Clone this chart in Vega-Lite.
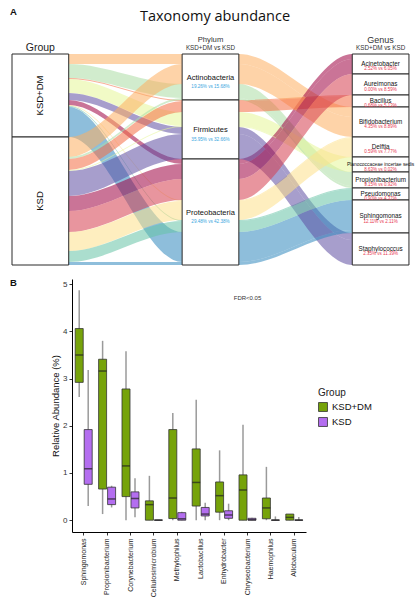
{
  "$schema": "https://vega.github.io/schema/vega-lite/v6.json",
  "padding": {"left": 10, "top": 1, "right": 0, "bottom": 0},
  "bounds": "flush",
  "spacing": 8,
  "config": {
    "view": {"stroke": null},
    "font": "Liberation Sans",
    "axis": {"labelFont": "Liberation Sans", "titleFont": "Liberation Sans"},
    "legend": {"labelFont": "Liberation Sans", "titleFont": "Liberation Sans"},
    "text": {"font": "Liberation Sans"}
  },
  "resolve": {"scale": {"x": "independent", "y": "independent", "color": "independent", "fill": "independent"}},
  "datasets": {
    "ribbons": [
      {"grp": "KSD+DM", "genus": "Bifidobacterium", "x": [0, 1], "y0": 0, "y1": 10},
      {"grp": "KSD+DM", "genus": "Bifidobacterium", "x": [3, 4], "y0": 0, "y1": 10},
      {"grp": "KSD+DM", "genus": "Bifidobacterium", "x": [6, 7], "y0": 53, "y1": 63},
      {"grp": "KSD+DM", "genus": "Propionibacterium", "x": [0, 1], "y0": 10, "y1": 24},
      {"grp": "KSD+DM", "genus": "Propionibacterium", "x": [3, 4], "y0": 30, "y1": 44},
      {"grp": "KSD+DM", "genus": "Propionibacterium", "x": [6, 7], "y0": 118, "y1": 132},
      {"grp": "KSD+DM", "genus": "Bacillus", "x": [0, 1], "y0": 24, "y1": 25},
      {"grp": "KSD+DM", "genus": "Bacillus", "x": [3, 4], "y0": 46, "y1": 47},
      {"grp": "KSD+DM", "genus": "Bacillus", "x": [6, 7], "y0": 41, "y1": 42},
      {"grp": "KSD+DM", "genus": "Planococcaceae incertae sedis", "x": [0, 1], "y0": 25, "y1": 39},
      {"grp": "KSD+DM", "genus": "Planococcaceae incertae sedis", "x": [3, 4], "y0": 58, "y1": 72},
      {"grp": "KSD+DM", "genus": "Planococcaceae incertae sedis", "x": [6, 7], "y0": 103, "y1": 117},
      {"grp": "KSD+DM", "genus": "Staphylococcus", "x": [0, 1], "y0": 39, "y1": 46},
      {"grp": "KSD+DM", "genus": "Staphylococcus", "x": [3, 4], "y0": 73, "y1": 80},
      {"grp": "KSD+DM", "genus": "Staphylococcus", "x": [6, 7], "y0": 179, "y1": 186},
      {"grp": "KSD+DM", "genus": "Acinetobacter", "x": [0, 1], "y0": 46, "y1": 51},
      {"grp": "KSD+DM", "genus": "Acinetobacter", "x": [3, 4], "y0": 105, "y1": 110},
      {"grp": "KSD+DM", "genus": "Acinetobacter", "x": [6, 7], "y0": 0, "y1": 5},
      {"grp": "KSD+DM", "genus": "Delftia", "x": [0, 1], "y0": 51, "y1": 52},
      {"grp": "KSD+DM", "genus": "Delftia", "x": [3, 4], "y0": 146, "y1": 147},
      {"grp": "KSD+DM", "genus": "Delftia", "x": [6, 7], "y0": 83, "y1": 84},
      {"grp": "KSD+DM", "genus": "Pseudomonas", "x": [0, 1], "y0": 52, "y1": 53},
      {"grp": "KSD+DM", "genus": "Pseudomonas", "x": [3, 4], "y0": 166, "y1": 167},
      {"grp": "KSD+DM", "genus": "Pseudomonas", "x": [6, 7], "y0": 134, "y1": 135},
      {"grp": "KSD+DM", "genus": "Sphingomonas", "x": [0, 1], "y0": 53, "y1": 83},
      {"grp": "KSD+DM", "genus": "Sphingomonas", "x": [3, 4], "y0": 178, "y1": 208},
      {"grp": "KSD+DM", "genus": "Sphingomonas", "x": [6, 7], "y0": 146, "y1": 176},
      {"grp": "KSD", "genus": "Bifidobacterium", "x": [0, 1], "y0": 83, "y1": 103},
      {"grp": "KSD", "genus": "Bifidobacterium", "x": [3, 4], "y0": 10, "y1": 30},
      {"grp": "KSD", "genus": "Bifidobacterium", "x": [6, 7], "y0": 63, "y1": 83},
      {"grp": "KSD", "genus": "Propionibacterium", "x": [0, 1], "y0": 103, "y1": 105},
      {"grp": "KSD", "genus": "Propionibacterium", "x": [3, 4], "y0": 44, "y1": 46},
      {"grp": "KSD", "genus": "Propionibacterium", "x": [6, 7], "y0": 132, "y1": 134},
      {"grp": "KSD", "genus": "Bacillus", "x": [0, 1], "y0": 105, "y1": 116},
      {"grp": "KSD", "genus": "Bacillus", "x": [3, 4], "y0": 47, "y1": 58},
      {"grp": "KSD", "genus": "Bacillus", "x": [6, 7], "y0": 42, "y1": 53},
      {"grp": "KSD", "genus": "Planococcaceae incertae sedis", "x": [0, 1], "y0": 116, "y1": 117},
      {"grp": "KSD", "genus": "Planococcaceae incertae sedis", "x": [3, 4], "y0": 72, "y1": 73},
      {"grp": "KSD", "genus": "Planococcaceae incertae sedis", "x": [6, 7], "y0": 117, "y1": 118},
      {"grp": "KSD", "genus": "Staphylococcus", "x": [0, 1], "y0": 117, "y1": 142},
      {"grp": "KSD", "genus": "Staphylococcus", "x": [3, 4], "y0": 80, "y1": 105},
      {"grp": "KSD", "genus": "Staphylococcus", "x": [6, 7], "y0": 186, "y1": 211},
      {"grp": "KSD", "genus": "Acinetobacter", "x": [0, 1], "y0": 142, "y1": 157},
      {"grp": "KSD", "genus": "Acinetobacter", "x": [3, 4], "y0": 110, "y1": 125},
      {"grp": "KSD", "genus": "Acinetobacter", "x": [6, 7], "y0": 5, "y1": 20},
      {"grp": "KSD", "genus": "Aureimonas", "x": [0, 1], "y0": 157, "y1": 178},
      {"grp": "KSD", "genus": "Aureimonas", "x": [3, 4], "y0": 125, "y1": 146},
      {"grp": "KSD", "genus": "Aureimonas", "x": [6, 7], "y0": 20, "y1": 41},
      {"grp": "KSD", "genus": "Delftia", "x": [0, 1], "y0": 178, "y1": 197},
      {"grp": "KSD", "genus": "Delftia", "x": [3, 4], "y0": 147, "y1": 166},
      {"grp": "KSD", "genus": "Delftia", "x": [6, 7], "y0": 84, "y1": 103},
      {"grp": "KSD", "genus": "Pseudomonas", "x": [0, 1], "y0": 197, "y1": 208},
      {"grp": "KSD", "genus": "Pseudomonas", "x": [3, 4], "y0": 167, "y1": 178},
      {"grp": "KSD", "genus": "Pseudomonas", "x": [6, 7], "y0": 135, "y1": 146},
      {"grp": "KSD", "genus": "Sphingomonas", "x": [0, 1], "y0": 208, "y1": 211},
      {"grp": "KSD", "genus": "Sphingomonas", "x": [3, 4], "y0": 208, "y1": 211},
      {"grp": "KSD", "genus": "Sphingomonas", "x": [6, 7], "y0": 176, "y1": 179}
    ],
    "nodes": [
      {"axis": "Group", "name": "KSD+DM", "pct": "", "x0": 0, "x1": 1, "y0": 0, "y1": 83},
      {"axis": "Group", "name": "KSD", "pct": "", "x0": 0, "x1": 1, "y0": 83, "y1": 211},
      {"axis": "Phylum", "name": "Actinobacteria", "pct": "19.26% vs 15.68%", "x0": 3, "x1": 4, "y0": 0, "y1": 46},
      {"axis": "Phylum", "name": "Firmicutes", "pct": "35.95% vs 32.66%", "x0": 3, "x1": 4, "y0": 46, "y1": 105},
      {"axis": "Phylum", "name": "Proteobacteria", "pct": "29.48% vs 42.38%", "x0": 3, "x1": 4, "y0": 105, "y1": 211},
      {"axis": "Genus", "name": "Acinetobacter", "pct": "2.52% vs 6.05%", "x0": 6, "x1": 7, "y0": 0, "y1": 20},
      {"axis": "Genus", "name": "Aureimonas", "pct": "0.00% vs 8.59%", "x0": 6, "x1": 7, "y0": 20, "y1": 41},
      {"axis": "Genus", "name": "Bacillus", "pct": "0.68% vs 5.13%", "x0": 6, "x1": 7, "y0": 41, "y1": 53},
      {"axis": "Genus", "name": "Bifidobacterium", "pct": "4.35% vs 8.89%", "x0": 6, "x1": 7, "y0": 53, "y1": 83},
      {"axis": "Genus", "name": "Delftia", "pct": "0.59% vs 7.77%", "x0": 6, "x1": 7, "y0": 83, "y1": 103},
      {"axis": "Genus", "name": "Planococcaceae incertae sedis", "pct": "8.63% vs 0.02%", "x0": 6, "x1": 7, "y0": 103, "y1": 118},
      {"axis": "Genus", "name": "Propionibacterium", "pct": "9.15% vs 0.92%", "x0": 6, "x1": 7, "y0": 118, "y1": 134},
      {"axis": "Genus", "name": "Pseudomonas", "pct": "0.90% vs 4.37%", "x0": 6, "x1": 7, "y0": 134, "y1": 146},
      {"axis": "Genus", "name": "Sphingomonas", "pct": "12.11% vs 2.11%", "x0": 6, "x1": 7, "y0": 146, "y1": 179},
      {"axis": "Genus", "name": "Staphylococcus", "pct": "2.35% vs 11.39%", "x0": 6, "x1": 7, "y0": 179, "y1": 211}
    ],
    "labels": [
      {"t": "Taxonomy abundance", "role": "title", "x": 3.58, "y": -37},
      {"t": "A", "role": "panel", "x": -0.035, "y": -42.5},
      {"t": "B", "role": "panel", "x": -0.035, "y": 229},
      {"t": "Group", "role": "hGroup", "x": 0.5, "y": -6.5},
      {"t": "Phylum", "role": "hSmall", "x": 3.5, "y": -14},
      {"t": "KSD+DM vs KSD", "role": "sub", "x": 3.5, "y": -6.5},
      {"t": "Genus", "role": "hGenus", "x": 6.5, "y": -14},
      {"t": "KSD+DM vs KSD", "role": "sub", "x": 6.5, "y": -6.5}
    ],
    "boxes": [
      {"genus": "Sphingomonas", "grp": "KSD+DM", "lo": 2.61, "q1": 2.92, "med": 3.5, "q3": 4.06, "hi": 4.87},
      {"genus": "Sphingomonas", "grp": "KSD", "lo": 0.3, "q1": 0.76, "med": 1.09, "q3": 1.92, "hi": 3.18},
      {"genus": "Propionibacterium", "grp": "KSD+DM", "lo": 0.13, "q1": 0.66, "med": 3.16, "q3": 3.41, "hi": 3.8},
      {"genus": "Propionibacterium", "grp": "KSD", "lo": 0.27, "q1": 0.33, "med": 0.45, "q3": 0.7, "hi": 0.73},
      {"genus": "Corynebacterium", "grp": "KSD+DM", "lo": 0.0, "q1": 0.5, "med": 1.15, "q3": 2.78, "hi": 3.58},
      {"genus": "Corynebacterium", "grp": "KSD", "lo": 0.06, "q1": 0.26, "med": 0.46, "q3": 0.6, "hi": 0.89},
      {"genus": "Cellulosimicrobium", "grp": "KSD+DM", "lo": 0.0, "q1": 0.0, "med": 0.33, "q3": 0.41, "hi": 0.94},
      {"genus": "Cellulosimicrobium", "grp": "KSD", "lo": 0.0, "q1": 0.0, "med": 0.0, "q3": 0.005, "hi": 0.005},
      {"genus": "Methylophilus", "grp": "KSD+DM", "lo": 0.0, "q1": 0.035, "med": 0.47, "q3": 1.92, "hi": 2.27},
      {"genus": "Methylophilus", "grp": "KSD", "lo": 0.0, "q1": 0.0, "med": 0.03, "q3": 0.16, "hi": 0.18},
      {"genus": "Lactobacillus", "grp": "KSD+DM", "lo": 0.0, "q1": 0.3, "med": 0.8, "q3": 1.51, "hi": 2.55},
      {"genus": "Lactobacillus", "grp": "KSD", "lo": 0.0, "q1": 0.09, "med": 0.13, "q3": 0.27, "hi": 0.37},
      {"genus": "Enhydrobacter", "grp": "KSD+DM", "lo": 0.0, "q1": 0.17, "med": 0.52, "q3": 0.81, "hi": 1.48},
      {"genus": "Enhydrobacter", "grp": "KSD", "lo": 0.0, "q1": 0.04, "med": 0.11, "q3": 0.2, "hi": 0.35},
      {"genus": "Chryseobacterium", "grp": "KSD+DM", "lo": 0.0, "q1": 0.0, "med": 0.64, "q3": 0.96, "hi": 2.02},
      {"genus": "Chryseobacterium", "grp": "KSD", "lo": 0.0, "q1": 0.0, "med": 0.01, "q3": 0.04, "hi": 0.05},
      {"genus": "Haemophilus", "grp": "KSD+DM", "lo": 0.0, "q1": 0.03, "med": 0.26, "q3": 0.47, "hi": 1.13},
      {"genus": "Haemophilus", "grp": "KSD", "lo": 0.0, "q1": 0.0, "med": 0.0, "q3": 0.005, "hi": 0.08},
      {"genus": "Allobaculum", "grp": "KSD+DM", "lo": 0.0, "q1": 0.0, "med": 0.06, "q3": 0.13, "hi": 0.13},
      {"genus": "Allobaculum", "grp": "KSD", "lo": 0.0, "q1": 0.0, "med": 0.0, "q3": 0.005, "hi": 0.07}
    ]
  },
  "vconcat": [
    {
      "width": 347,
      "height": 270,
      "layer": [
        {
          "data": {"name": "ribbons"},
          "transform": [{"flatten": ["x"]}],
          "mark": {"type": "area", "interpolate": "monotone", "orient": "vertical", "fillOpacity": 0.55},
          "encoding": {
            "x": {"field": "x", "type": "quantitative", "scale": {"domain": [1.058, 7.177], "nice": false, "zero": false}, "axis": null},
            "y": {"field": "y0", "type": "quantitative", "scale": {"domain": [-53, 217], "reverse": true, "nice": false, "zero": false}, "axis": null},
            "y2": {"field": "y1"},
            "color": {
              "field": "genus", "type": "nominal", "legend": null,
              "scale": {
                "domain": ["Acinetobacter", "Aureimonas", "Bacillus", "Bifidobacterium", "Delftia", "Planococcaceae incertae sedis", "Propionibacterium", "Pseudomonas", "Sphingomonas", "Staphylococcus"],
                "range": ["#9e0142", "#d53e4f", "#f46d43", "#fdae61", "#fee08b", "#e6f598", "#abdda4", "#66c2a5", "#3288bd", "#5e4fa2"]
              }
            },
            "detail": {"field": "grp"}
          }
        },
        {
          "data": {"name": "nodes"},
          "mark": {"type": "rect", "fill": "white", "stroke": "#2a2a2a", "strokeWidth": 1},
          "encoding": {
            "x": {"field": "x0", "type": "quantitative"},
            "x2": {"field": "x1"},
            "y": {"field": "y0", "type": "quantitative"},
            "y2": {"field": "y1"}
          }
        },
        {
          "data": {"name": "nodes"},
          "transform": [
            {"filter": "datum.axis === 'Group'"},
            {"calculate": "(datum.y0 + datum.y1) / 2", "as": "ym"},
            {"calculate": "(datum.x0 + datum.x1) / 2", "as": "xm"}
          ],
          "mark": {"type": "text", "angle": 270, "fontSize": 9.5, "color": "#111"},
          "encoding": {
            "x": {"field": "xm", "type": "quantitative"},
            "y": {"field": "ym", "type": "quantitative"},
            "text": {"field": "name"}
          }
        },
        {
          "data": {"name": "nodes"},
          "transform": [
            {"filter": "datum.axis === 'Phylum'"},
            {"calculate": "(datum.y0 + datum.y1) / 2", "as": "ym"},
            {"calculate": "(datum.x0 + datum.x1) / 2", "as": "xm"}
          ],
          "mark": {"type": "text", "fontSize": 7.5, "color": "#111", "dy": 0.5},
          "encoding": {
            "x": {"field": "xm", "type": "quantitative"},
            "y": {"field": "ym", "type": "quantitative"},
            "text": {"field": "name"}
          }
        },
        {
          "data": {"name": "nodes"},
          "transform": [
            {"filter": "datum.axis === 'Phylum'"},
            {"calculate": "(datum.y0 + datum.y1) / 2", "as": "ym"},
            {"calculate": "(datum.x0 + datum.x1) / 2", "as": "xm"}
          ],
          "mark": {"type": "text", "fontSize": 4.6, "color": "#3aa6e0", "dy": 10},
          "encoding": {
            "x": {"field": "xm", "type": "quantitative"},
            "y": {"field": "ym", "type": "quantitative"},
            "text": {"field": "pct"}
          }
        },
        {
          "data": {"name": "nodes"},
          "transform": [
            {"filter": "datum.axis === 'Genus' && datum.name !== 'Planococcaceae incertae sedis'"},
            {"calculate": "(datum.y0 + datum.y1) / 2", "as": "ym"},
            {"calculate": "(datum.x0 + datum.x1) / 2", "as": "xm"}
          ],
          "mark": {"type": "text", "fontSize": 6.3, "color": "#111", "dy": -0.5},
          "encoding": {
            "x": {"field": "xm", "type": "quantitative"},
            "y": {"field": "ym", "type": "quantitative"},
            "text": {"field": "name"}
          }
        },
        {
          "data": {"name": "nodes"},
          "transform": [
            {"filter": "datum.name === 'Planococcaceae incertae sedis'"},
            {"calculate": "(datum.y0 + datum.y1) / 2", "as": "ym"},
            {"calculate": "(datum.x0 + datum.x1) / 2", "as": "xm"}
          ],
          "mark": {"type": "text", "fontSize": 4.9, "color": "#111", "dy": 0.5},
          "encoding": {
            "x": {"field": "xm", "type": "quantitative"},
            "y": {"field": "ym", "type": "quantitative"},
            "text": {"field": "name"}
          }
        },
        {
          "data": {"name": "nodes"},
          "transform": [
            {"filter": "datum.axis === 'Genus'"},
            {"calculate": "(datum.y0 + datum.y1) / 2", "as": "ym"},
            {"calculate": "(datum.x0 + datum.x1) / 2", "as": "xm"}
          ],
          "mark": {"type": "text", "fontSize": 4.5, "color": "#e8384f", "dy": 5.2},
          "encoding": {
            "x": {"field": "xm", "type": "quantitative"},
            "y": {"field": "ym", "type": "quantitative"},
            "text": {"field": "pct"}
          }
        },
        {
          "data": {"name": "labels"},
          "transform": [{"filter": "datum.role === 'title'"}],
          "mark": {"type": "text", "fontSize": 14.5, "font": "Open Sans", "color": "#111"},
          "encoding": {
            "x": {"field": "x", "type": "quantitative"},
            "y": {"field": "y", "type": "quantitative"},
            "text": {"field": "t"}
          }
        },
        {
          "data": {"name": "labels"},
          "transform": [{"filter": "datum.role === 'panel'"}],
          "mark": {"type": "text", "fontSize": 9.5, "fontWeight": "bold", "align": "left", "color": "#111"},
          "encoding": {
            "x": {"field": "x", "type": "quantitative"},
            "y": {"field": "y", "type": "quantitative"},
            "text": {"field": "t"}
          }
        },
        {
          "data": {"name": "labels"},
          "transform": [{"filter": "datum.role === 'hGroup'"}],
          "mark": {"type": "text", "fontSize": 10.5, "color": "#222"},
          "encoding": {
            "x": {"field": "x", "type": "quantitative"},
            "y": {"field": "y", "type": "quantitative"},
            "text": {"field": "t"}
          }
        },
        {
          "data": {"name": "labels"},
          "transform": [{"filter": "datum.role === 'hSmall'"}],
          "mark": {"type": "text", "fontSize": 7.7, "color": "#333"},
          "encoding": {
            "x": {"field": "x", "type": "quantitative"},
            "y": {"field": "y", "type": "quantitative"},
            "text": {"field": "t"}
          }
        },
        {
          "data": {"name": "labels"},
          "transform": [{"filter": "datum.role === 'hGenus'"}],
          "mark": {"type": "text", "fontSize": 9, "color": "#333"},
          "encoding": {
            "x": {"field": "x", "type": "quantitative"},
            "y": {"field": "y", "type": "quantitative"},
            "text": {"field": "t"}
          }
        },
        {
          "data": {"name": "labels"},
          "transform": [{"filter": "datum.role === 'sub'"}],
          "mark": {"type": "text", "fontSize": 6.3, "color": "#333"},
          "encoding": {
            "x": {"field": "x", "type": "quantitative"},
            "y": {"field": "y", "type": "quantitative"},
            "text": {"field": "t"}
          }
        }
      ]
    },
    {
      "width": 234,
      "height": 253,
      "layer": [
        {
          "data": {"name": "boxes"},
          "mark": {"type": "rule", "color": "#9a9a9a", "strokeWidth": 1.5},
          "encoding": {
            "x": {
              "field": "genus", "type": "nominal",
              "sort": ["Sphingomonas", "Propionibacterium", "Corynebacterium", "Cellulosimicrobium", "Methylophilus", "Lactobacillus", "Enhydrobacter", "Chryseobacterium", "Haemophilus", "Allobaculum"],
              "scale": {"paddingInner": 0, "paddingOuter": 0},
              "axis": {"title": null, "labelAngle": -90, "labelFontSize": 7, "labelColor": "#222", "domainColor": "#000", "tickColor": "#333", "tickSize": 3, "labelPadding": 3}
            },
            "xOffset": {"field": "grp", "type": "nominal", "sort": ["KSD+DM", "KSD"], "scale": {"domain": ["KSD+DM", "KSD"], "paddingInner": 0.11, "paddingOuter": 0.356}},
            "y": {
              "field": "lo", "type": "quantitative",
              "scale": {"domain": [-0.25, 5.11], "nice": false, "zero": false},
              "axis": {"title": "Relative Abundance (%)", "values": [0, 1, 2, 3, 4, 5], "grid": false, "domainColor": "#000", "tickColor": "#333", "tickSize": 3, "labelFontSize": 8, "labelColor": "#333", "titleFontSize": 9.5, "titleFontWeight": "normal", "titleColor": "#111", "titlePadding": 2}
            },
            "y2": {"field": "hi"}
          }
        },
        {
          "data": {"name": "boxes"},
          "mark": {"type": "bar", "stroke": "#333", "strokeWidth": 0.8},
          "encoding": {
            "x": {"field": "genus", "type": "nominal", "sort": ["Sphingomonas", "Propionibacterium", "Corynebacterium", "Cellulosimicrobium", "Methylophilus", "Lactobacillus", "Enhydrobacter", "Chryseobacterium", "Haemophilus", "Allobaculum"]},
            "xOffset": {"field": "grp", "type": "nominal", "sort": ["KSD+DM", "KSD"]},
            "y": {"field": "q1", "type": "quantitative"},
            "y2": {"field": "q3"},
            "fill": {
              "field": "grp", "type": "nominal",
              "scale": {"domain": ["KSD+DM", "KSD"], "range": ["#76a30a", "#b46ef0"]},
              "legend": {"title": "Group", "orient": "none", "legendX": 246, "legendY": 109, "titleFontSize": 10, "titleFontWeight": "normal", "titleColor": "#222", "labelFontSize": 9.5, "labelColor": "#111", "symbolType": "square", "symbolSize": 80, "symbolStrokeColor": "#333", "symbolStrokeWidth": 0.8, "rowPadding": 1, "titlePadding": 4}
            }
          }
        },
        {
          "data": {"name": "boxes"},
          "mark": {"type": "tick", "color": "#222", "thickness": 1.5, "size": 8, "orient": "horizontal"},
          "encoding": {
            "x": {"field": "genus", "type": "nominal", "sort": ["Sphingomonas", "Propionibacterium", "Corynebacterium", "Cellulosimicrobium", "Methylophilus", "Lactobacillus", "Enhydrobacter", "Chryseobacterium", "Haemophilus", "Allobaculum"]},
            "xOffset": {"field": "grp", "type": "nominal", "sort": ["KSD+DM", "KSD"]},
            "y": {"field": "med", "type": "quantitative"}
          }
        },
        {
          "data": {"values": [{"genus": "Chryseobacterium", "t": "FDR<0.05", "v": 4.7}]},
          "mark": {"type": "text", "fontSize": 6, "color": "#333"},
          "encoding": {
            "x": {"field": "genus", "type": "nominal", "sort": ["Sphingomonas", "Propionibacterium", "Corynebacterium", "Cellulosimicrobium", "Methylophilus", "Lactobacillus", "Enhydrobacter", "Chryseobacterium", "Haemophilus", "Allobaculum"]},
            "y": {"field": "v", "type": "quantitative"},
            "text": {"field": "t"}
          }
        }
      ]
    }
  ]
}
